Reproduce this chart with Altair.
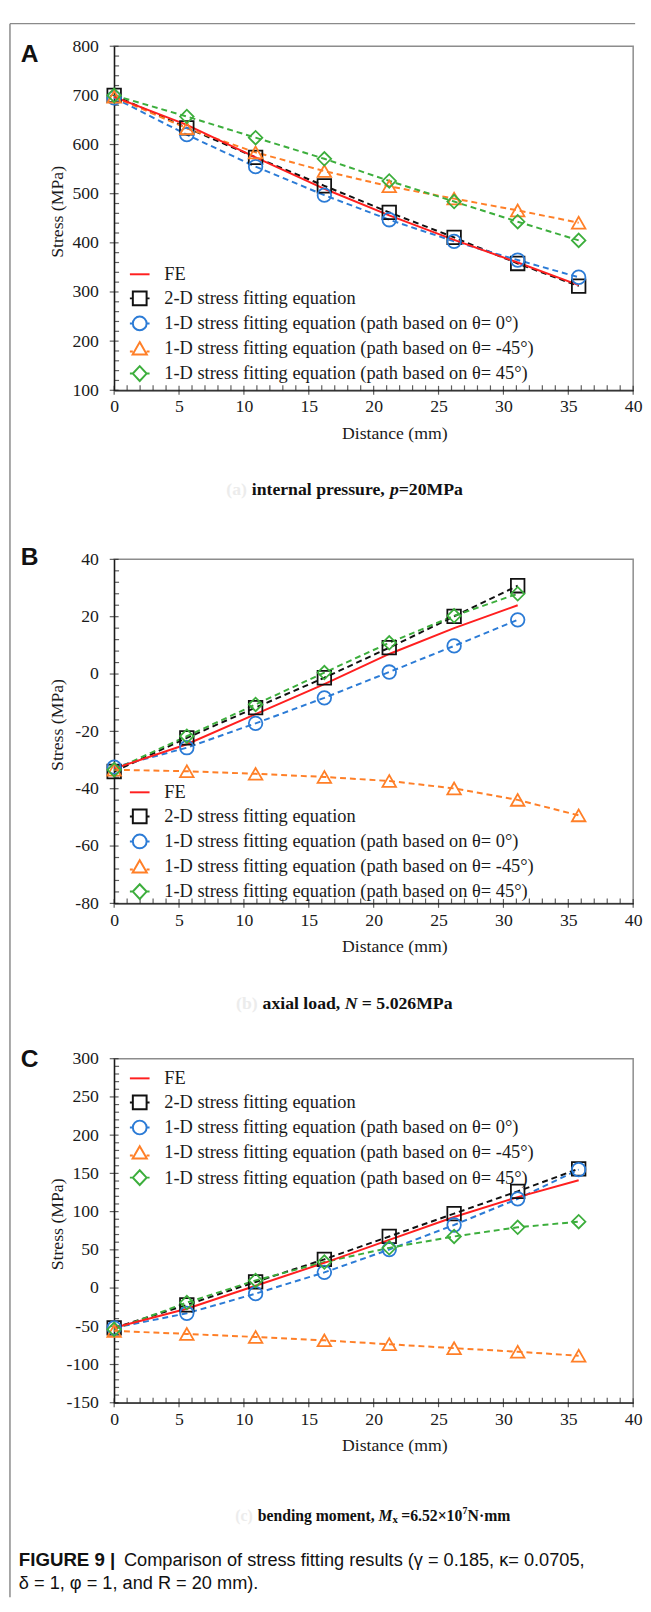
import altair as alt
import pandas as pd

# ---------------- data ----------------
X_PTS = [0, 5.6, 10.9, 16.2, 21.2, 26.2, 31.1, 35.8]
X_PTS_B = [0, 5.6, 10.9, 16.2, 21.2, 26.2, 31.1]

# Panel A: internal pressure
A_FE = [697, 640, 574, 510, 456, 406, 360, 314]
A_2D = [700, 634, 574, 516, 462, 411, 358, 312]
A_T0 = [695, 620, 555, 497, 447, 403, 365, 330]
A_TM45 = [697, 633, 584, 546, 515, 490, 466, 441]
A_T45 = [700, 657, 614, 571, 526, 484, 443, 405]

# Panel B: axial load
B_FE = [-33, -24.5, -14, -3.5, 7, 16, 24]
B_2D = [-34, -22.3, -11.7, -1.3, 9.2, 20.1, 30.8]
B_T0 = [-32.5, -25.7, -17.2, -8.3, 0.7, 9.8, 18.9]
B_TM45 = [-33.4, -33.9, -34.8, -35.9, -37.3, -39.9, -43.9, -49.3]
B_T45 = [-33.4, -21.7, -10.6, 0.5, 10.9, 20.3, 28]

# Panel C: bending moment
C_FE = [-52, -27, 3, 33, 63, 93, 119, 141]
C_2D = [-52, -22, 8, 37.6, 67.5, 97.4, 126.5, 156]
C_T0 = [-52, -33, -7.3, 20.5, 50.4, 82.5, 116.7, 155]
C_TM45 = [-56, -60, -64, -68.4, -73.5, -78.6, -83.3, -88.5]
C_T45 = [-54, -19, 10, 34, 52.6, 67.5, 79.5, 86.8]

SERIES = [
    "FE",
    "2-D stress fitting equation",
    "1-D stress fitting equation (path based on θ= 0°)",
    "1-D stress fitting equation (path based on θ= -45°)",
    "1-D stress fitting equation (path based on θ= 45°)",
]
COLORS = ["#ff1f1f", "#111111", "#2b7bd6", "#ff7f27", "#3cae3c"]
MARKERS = [None, "square", "circle", "triangle-up", "diamond"]
LEGEND_SYMBOLS = [
    "M-1,0L1,0",
    "M-1,0L-0.7,0M-0.7,-0.7L0.7,-0.7L0.7,0.7L-0.7,0.7ZM0.7,0L1,0",
    "M-1,0L-0.7,0M0.7,0L1,0M0.7,0A0.7,0.7,0,1,1,-0.7,0A0.7,0.7,0,1,1,0.7,0",
    "M-1,0.3L-0.7,0.3M0,-0.65L0.72,0.6L-0.72,0.6ZM0.7,0.3L1,0.3",
    "M-1,0L-0.7,0M0,-0.75L0.7,0L0,0.75L-0.7,0ZM0.7,0L1,0",
]

X_MAJOR = [0, 5, 10, 15, 20, 25, 30, 35, 40]
X_MINOR = [v for v in range(1, 40) if v % 5 != 0]

A_YMAJ = [100, 200, 300, 400, 500, 600, 700, 800]
A_YMIN = [v for v in range(120, 800, 20) if v % 100 != 0]
B_YMAJ = [-80, -60, -40, -20, 0, 20, 40]
B_YMIN = [v for v in range(-76, 40, 4) if v % 20 != 0]
C_YMAJ = [-150, -100, -50, 0, 50, 100, 150, 200, 250, 300]
C_YMIN = [v for v in range(-140, 300, 10) if v % 50 != 0]

SERIF = "Liberation Serif"
SANS = "Liberation Sans"
W, H = 528, 350
HYPHEN_LABEL = "(datum.value < 0 ? '-' : '') + format(abs(datum.value), 'd')"


def text_layer(t, x, y, font=SERIF, size=18, weight="bold", style="normal",
               align="left", color="#111111", dy=0):
    return alt.Chart(pd.DataFrame({"t": [t]})).mark_text(
        font=font, fontSize=size, fontWeight=weight, fontStyle=style, align=align,
        baseline="middle", color=color, dy=dy,
    ).encode(x=alt.value(x), y=alt.value(y), text="t:N")


def panel(xs_list, ys_list, ydom, ymaj, ymin, legend_y, letter, letter_y,
          caption_segments, faint, faint_x, cap_y, extra=()):
    rows = []
    for s, xs, ys in zip(SERIES, xs_list, ys_list):
        for x, y in zip(xs, ys):
            rows.append({"series": s, "x": x, "y": y})
    df = pd.DataFrame(rows)

    xsc = alt.Scale(domain=[0, 40], nice=False, zero=False)
    ysc = alt.Scale(domain=ydom, nice=False, zero=False)
    xax = alt.Axis(values=X_MAJOR, title="Distance (mm)", titleX=285, titleY=44,
                   titleBaseline="middle", labelPadding=8, labelFlush=False,
                   labelOverlap=False, ticks=False, grid=False)
    yax = alt.Axis(values=ymaj, title="Stress (MPa)", titleX=-58, titleY=168,
                   titleAngle=-90, titleBaseline="middle", titleAlign="center",
                   labelPadding=16, labelFlush=False, labelOverlap=False,
                   labelExpr=HYPHEN_LABEL, ticks=False, grid=False)
    X = alt.X("x:Q", scale=xsc, axis=xax)
    Y = alt.Y("y:Q", scale=ysc, axis=yax)

    layers = []
    # ticks (major crossing the axis line, minor pointing inside)
    xmaj = pd.DataFrame({"x": X_MAJOR, "y": [ydom[0]] * len(X_MAJOR)})
    xmin = pd.DataFrame({"x": X_MINOR, "y": [ydom[0]] * len(X_MINOR)})
    ymajdf = pd.DataFrame({"x": [0] * len(ymaj), "y": ymaj})
    ymindf = pd.DataFrame({"x": [0] * len(ymin), "y": ymin})
    tk = dict(color="#1a1a1a", thickness=1.2)
    layers.append(alt.Chart(xmaj).mark_tick(orient="vertical", size=9, **tk).encode(x=X, y=Y))
    layers.append(alt.Chart(xmin).mark_tick(orient="vertical", size=5, yOffset=-2.5, **tk).encode(x=X, y=Y))
    layers.append(alt.Chart(ymajdf).mark_tick(orient="horizontal", size=9, **tk).encode(x=X, y=Y))
    layers.append(alt.Chart(ymindf).mark_tick(orient="horizontal", size=5, xOffset=2.5, **tk).encode(x=X, y=Y))

    # lines
    for i in [1, 2, 3, 4, 0]:
        sub = df[df.series == SERIES[i]]
        kw = dict(color=COLORS[i], strokeWidth=2)
        if i > 0:
            kw["strokeDash"] = [6, 4]
        layers.append(alt.Chart(sub).mark_line(**kw).encode(x=X, y=Y))
    # markers
    for i in [1, 2, 3, 4]:
        sub = df[df.series == SERIES[i]]
        layers.append(
            alt.Chart(sub).mark_point(shape=MARKERS[i], color=COLORS[i], filled=False,
                                      size=190, strokeWidth=1.8, opacity=1).encode(x=X, y=Y))
    # legend (invisible carrier layer)
    first = df.groupby("series", sort=False).head(1)
    leg = alt.Legend(orient="none", legendX=15, legendY=legend_y, title=None,
                     labelFont=SERIF, labelFontSize=18.7, labelColor="#1a1a1a",
                     labelLimit=0, symbolSize=400, symbolStrokeWidth=2,
                     symbolOpacity=1, rowPadding=3.5, labelOffset=14, padding=0)
    layers.append(
        alt.Chart(first).mark_point(opacity=0, filled=False, strokeWidth=2).encode(
            x=X, y=Y,
            color=alt.Color("series:N", sort=SERIES,
                            scale=alt.Scale(domain=SERIES, range=COLORS), legend=leg),
            shape=alt.Shape("series:N", sort=SERIES,
                            scale=alt.Scale(domain=SERIES, range=LEGEND_SYMBOLS), legend=leg),
        ))
    # panel letter
    layers.append(alt.Chart(pd.DataFrame({"t": [letter]})).mark_text(
        font=SANS, fontSize=25, fontWeight="bold", align="left", baseline="alphabetic",
        color="#111111").encode(x=alt.value(-95), y=alt.value(letter_y), text="t:N"))
    # caption
    layers.append(text_layer(faint, faint_x, cap_y, align="right", color="#ececec",
                             size=caption_segments[0][2]))
    for (t, x, size, style, dy) in caption_segments:
        layers.append(text_layer(t, x, cap_y, size=size, style=style, dy=dy))
    layers.extend(extra)
    return alt.layer(*layers).properties(width=W, height=H)


border = [
    alt.Chart(pd.DataFrame({"k": [0]})).mark_rule(color="#8a8a8a", strokeWidth=1.5).encode(
        x=alt.value(-106), y=alt.value(-23), y2=alt.value(1578)),
    alt.Chart(pd.DataFrame({"k": [0]})).mark_rule(color="#8a8a8a", strokeWidth=1.5).encode(
        x=alt.value(-106), x2=alt.value(530), y=alt.value(-23)),
]

fig_caption = [
    text_layer("FIGURE 9 |", -97, 510, font=SANS, size=19, weight="bold"),
    text_layer("Comparison of stress fitting results (γ = 0.185, κ= 0.0705,", 10, 510,
               font=SANS, size=18.5, weight="normal"),
    text_layer("δ = 1, φ = 1, and R = 20 mm).", -97, 533, font=SANS, size=18.5, weight="normal"),
]

# caption segments: (text, x, font size, style, dy)
CAP_A = [
    ("internal pressure,", 140, 18, "normal", 0),
    ("p", 280.5, 18, "italic", 0),
    ("=20MPa", 289.5, 18, "normal", 0),
]
CAP_B = [
    ("axial load,", 151, 18, "normal", 0),
    ("N", 234.5, 18, "italic", 0),
    ("= 5.026MPa", 252, 18, "normal", 0),
]
CAP_C = [
    ("bending moment,", 146, 16, "normal", 0),
    ("M", 269, 16, "italic", 0),
    ("x", 283.2, 11, "normal", 4),
    ("=6.52×10", 292, 16, "normal", 0),
    ("7", 354.3, 10, "normal", -5),
    ("N·mm", 359.5, 16, "normal", 0),
]

pA = panel([X_PTS] * 5, [A_FE, A_2D, A_T0, A_TM45, A_T45], [100, 800], A_YMAJ, A_YMIN,
           221, "A", 16, CAP_A, "(a)", 135, 452, border)
pB = panel([X_PTS_B, X_PTS_B, X_PTS_B, X_PTS, X_PTS_B], [B_FE, B_2D, B_T0, B_TM45, B_T45],
           [-80, 40], B_YMAJ, B_YMIN, 226, "B", 6, CAP_B, "(b)", 146, 452)
pC = panel([X_PTS] * 5, [C_FE, C_2D, C_T0, C_TM45, C_T45], [-150, 300], C_YMAJ, C_YMIN,
           9, "C", 8, CAP_C, "(c)", 141, 465, fig_caption)

inner = alt.vconcat(pB, pC, spacing=158, bounds="flush").resolve_scale(
    color="independent", shape="independent").resolve_legend(
    color="independent", shape="independent")

chart = alt.vconcat(
    pA, inner, spacing=172, bounds="flush",
).resolve_scale(
    color="independent", shape="independent"
).resolve_legend(
    color="independent", shape="independent"
).properties(padding=0).configure_view(
    stroke="#8c8c8c", strokeWidth=1.5
).configure_axis(
    domainColor="#1a1a1a", domainWidth=1.3,
    labelFont=SERIF, labelFontSize=18, labelColor="#1a1a1a",
    titleFont=SERIF, titleFontSize=18, titleFontWeight="normal", titleColor="#1a1a1a",
)

chart.save("out.html", embed_options={"renderer": "svg", "actions": False})
